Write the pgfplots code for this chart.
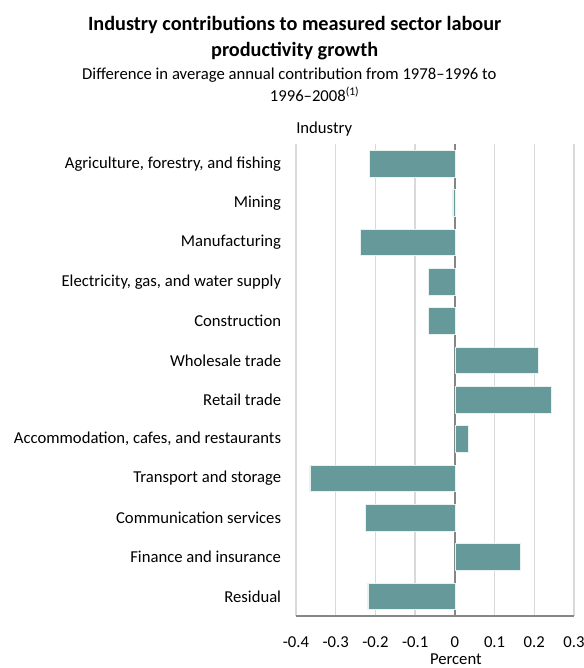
\documentclass[border=0pt]{standalone}
\usepackage{pgfplots}
\pgfplotsset{compat=1.18}
\usepackage{fontspec}
\setmainfont{Carlito}
\definecolor{barc}{HTML}{669999}
\definecolor{gridc}{HTML}{D9D9D9}
\definecolor{axc}{HTML}{868686}
\begin{document}
\begin{tikzpicture}[x=1pt,y=1pt]
\path[use as bounding box] (0,0) rectangle (438,501);
\node[font=\fontsize{15.2}{18}\selectfont\bfseries, align=center] at (221,482) {Industry contributions to measured sector labour};
\node[font=\fontsize{15.2}{18}\selectfont\bfseries, align=center] at (221,463) {productivity growth};
\node[font=\fontsize{12.5}{14}\selectfont] at (217,445) {Difference in average annual contribution from 1978--1996 to};
\node[font=\fontsize{12.5}{14}\selectfont] at (236,430) {1996--2008\textsuperscript{(1)}};
\begin{axis}[
  at={(222pt,39pt)}, anchor=south west,
  scale only axis, width=208.5pt, height=354pt,
  xmin=-0.4, xmax=0.3, ymin=-0.5, ymax=11.5, y dir=reverse,
  xbar, bar width=20pt, bar shift=0pt,
  ytick={0,1,2,3,4,5,6,7,8,9,10,11},
  yticklabels={{Agriculture, forestry, and fishing},{Mining},{Manufacturing},{Electricity, gas, and water supply},{Construction},{Wholesale trade},{Retail trade},{Accommodation, cafes, and restaurants},{Transport and storage},{Communication services},{Finance and insurance},{Residual}},
  xtick={-0.4,-0.3,-0.2,-0.1,0,0.1,0.2,0.3},
  xticklabels={-0.4,-0.3,-0.2,-0.1,0,0.1,0.2,0.3},
  extra x ticks={0}, extra x tick labels={},
  extra x tick style={grid style={draw=axc, line width=1.2pt}},
  xmajorgrids, grid style={draw=gridc, line width=1pt},
  axis x line*=bottom, axis y line*=left,
  x axis line style={draw=axc, line width=1.2pt, -},
  y axis line style={draw=none},
  major tick length=0pt,
  tick label style={font=\fontsize{12.5}{14}\selectfont},
  /pgf/number format/assume math mode=true,
  yticklabel style={anchor=east, inner sep=0pt, xshift=-11pt},
  xticklabel style={anchor=north, inner sep=0pt, yshift=-15pt},
  xlabel={Percent}, xlabel style={font=\fontsize{12.5}{14}\selectfont, at={(axis description cs:0.575,0)}, anchor=north, yshift=-28pt, inner sep=0pt},
  clip=false,
]
\addplot[fill=barc, draw=white!85!barc, line width=0.5pt] coordinates {
  (-0.216,0) (-0.005,1) (-0.238,2) (-0.066,3) (-0.066,4) (0.210,5)
  (0.242,6) (0.034,7) (-0.365,8) (-0.226,9) (0.165,10) (-0.219,11)
};
\node[font=\fontsize{12.5}{14}\selectfont, anchor=south west, inner sep=0pt] at (axis description cs:0,1) [yshift=6pt] {Industry};
\end{axis}
\end{tikzpicture}
\end{document}
